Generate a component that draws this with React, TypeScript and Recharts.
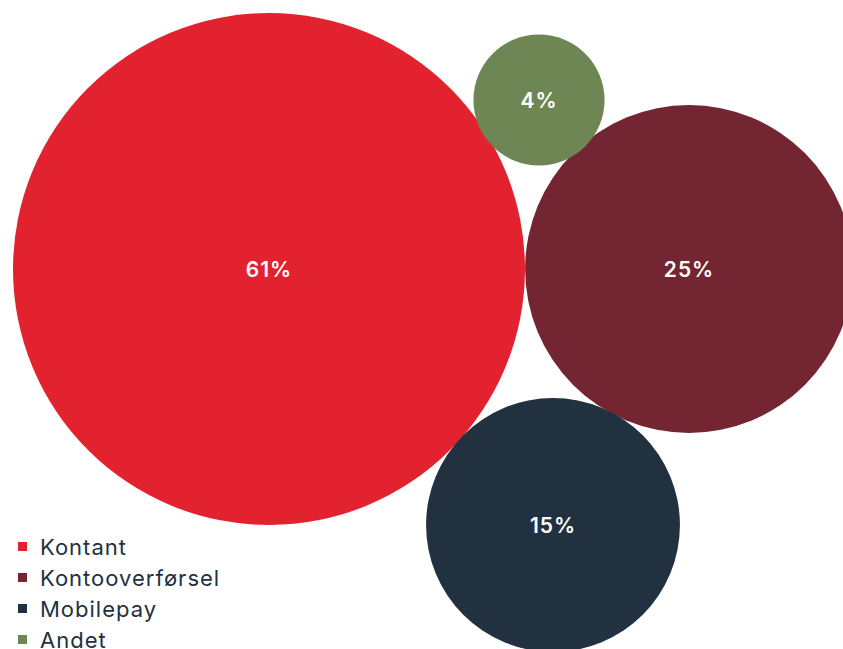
import { ScatterChart, Scatter, XAxis, YAxis, ZAxis, Cell } from 'recharts'

// share of payments, percent
const categories = ['Kontant', 'Kontooverførsel', 'Mobilepay', 'Andet']
const shares = [61, 25, 15, 4]
const colors = ['#e2222f', '#732631', '#22313f', '#6e8654']
// packed-bubble layout, in the chart's own units
const centerX = [269, 689, 553, 539]
const centerY = [269, 269, 525, 100]

const W = 843
const H = 649
const MAX_R = 256

const data = categories.map((name, i) => ({
  name,
  share: shares[i],
  x: centerX[i],
  y: centerY[i],
}))

const FONT = 'Inter, "Noto Sans", sans-serif'

function Bubble(props: any) {
  const { cx, cy, size, fill, payload } = props
  const r = Math.sqrt(size / Math.PI)
  return (
    <g>
      <circle cx={cx} cy={cy} r={r} fill={fill} />
      <text
        x={cx}
        y={cy}
        textAnchor="middle"
        dominantBaseline="central"
        fill="#ffffff"
        fontSize={21}
        fontWeight={600}
        letterSpacing={1}
        fontFamily={FONT}
      >
        {payload.share}%
      </text>
    </g>
  )
}

function LegendBox() {
  return (
    <div
      style={{
        position: 'absolute',
        left: 0,
        top: 531,
        fontFamily: FONT,
        fontSize: 22,
        letterSpacing: 1,
        color: '#22313f',
      }}
    >
      {categories.map((c, i) => (
        <div key={c} style={{ display: 'flex', alignItems: 'center', height: 31 }}>
          <span style={{ width: 9, height: 9, background: colors[i], marginLeft: 18, marginRight: 13 }} />
          <span>{c}</span>
        </div>
      ))}
    </div>
  )
}

export default function App() {
  return (
    <div style={{ position: 'absolute', left: 0, top: 0, width: W, height: H, overflow: 'hidden', background: '#fff' }}>
      <ScatterChart width={W} height={H} margin={{ top: 0, right: 0, bottom: 0, left: 0 }}>
        <XAxis type="number" dataKey="x" domain={[0, W]} hide />
        <YAxis type="number" dataKey="y" domain={[0, H]} reversed hide />
        <ZAxis type="number" dataKey="share" domain={[0, 61]} range={[0, Math.PI * MAX_R * MAX_R]} />
        <Scatter data={data} shape={<Bubble />} isAnimationActive={false}>
          {data.map((d, i) => (
            <Cell key={d.name} fill={colors[i]} />
          ))}
        </Scatter>
      </ScatterChart>
      <LegendBox />
    </div>
  )
}
